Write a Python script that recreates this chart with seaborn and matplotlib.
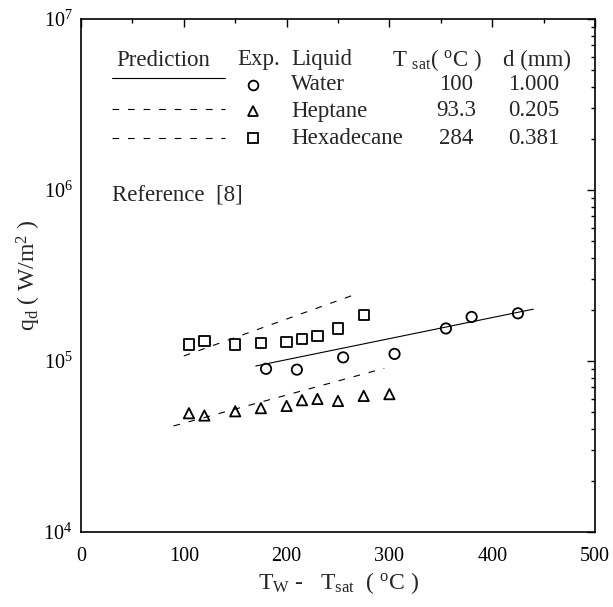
import matplotlib
matplotlib.use("Agg")
import matplotlib.pyplot as plt
import numpy as np
import pandas as pd
import seaborn as sns
from matplotlib.ticker import LogLocator, MultipleLocator, NullFormatter, LogFormatterSciNotation

# ---------------- data ----------------
liquids = ["Water", "Heptane", "Hexadecane"]
tsat_labels = ["100", "93.3", "284"]
d_labels = ["1.000", "0.205", "0.381"]

water_dt = [180, 210, 255, 305, 355, 380, 425]
water_q = [9.0e4, 8.9e4, 1.05e5, 1.10e5, 1.55e5, 1.81e5, 1.90e5]
heptane_dt = [105, 120, 150, 175, 200, 215, 230, 250, 275, 300]
heptane_q = [4.95e4, 4.8e4, 5.08e4, 5.3e4, 5.46e4, 5.9e4, 6.0e4, 5.84e4, 6.25e4, 6.4e4]
hexa_dt = [105, 120, 150, 175, 200, 215, 230, 250, 275]
hexa_q = [1.25e5, 1.31e5, 1.25e5, 1.27e5, 1.29e5, 1.35e5, 1.40e5, 1.55e5, 1.86e5]

pred_water_dt = [170, 440]
pred_water_q = [9.35e4, 2.01e5]
pred_hep_dt = [90, 295]
pred_hep_q = [4.17e4, 9.06e4]
pred_hex_dt = [100, 265]
pred_hex_q = [1.07e5, 2.43e5]

# ---------------- style ----------------
sns.set_style("white")
plt.rcParams["font.family"] = ["Liberation Serif", "DejaVu Serif"]
plt.rcParams["mathtext.fontset"] = "custom"
plt.rcParams["mathtext.rm"] = "Liberation Serif"
plt.rcParams["mathtext.it"] = "Liberation Serif:italic"
plt.rcParams["mathtext.bf"] = "Liberation Serif:bold"

exp_df = pd.DataFrame({
    "dT": water_dt + heptane_dt + hexa_dt,
    "q": water_q + heptane_q + hexa_q,
    "liquid": ["Water"] * len(water_dt) + ["Heptane"] * len(heptane_dt) + ["Hexadecane"] * len(hexa_dt),
})
pred_df = pd.DataFrame({
    "dT": pred_water_dt + pred_hep_dt + pred_hex_dt,
    "q": pred_water_q + pred_hep_q + pred_hex_q,
    "liquid": ["Water"] * 2 + ["Heptane"] * 2 + ["Hexadecane"] * 2,
})

markers = {"Water": "o", "Heptane": "^", "Hexadecane": "s"}
line_styles = {"Water": "-", "Heptane": (0, (6, 8)), "Hexadecane": (0, (6, 8))}

fig = plt.figure(figsize=(6.13, 6.07), dpi=100)
ax = fig.add_axes([81 / 613, 75 / 607, 514 / 613, 513 / 607])

for liq in liquids:
    sub = pred_df[pred_df["liquid"] == liq]
    sns.lineplot(data=sub, x="dT", y="q", ax=ax, color="black", lw=0.8,
                 linestyle=line_styles[liq], legend=False, estimator=None, sort=False)

for liq in liquids:
    sub = exp_df[exp_df["liquid"] == liq]
    sns.scatterplot(data=sub, x="dT", y="q", ax=ax, marker=markers[liq], s=55,
                    facecolors="none", edgecolors="black", linewidth=1.3,
                    legend=False, zorder=3)

ax.set_yscale("log")
ax.set_xlim(0, 500)
ax.set_ylim(1e4, 1e7)
ax.xaxis.set_major_locator(MultipleLocator(100))
ax.xaxis.set_minor_locator(MultipleLocator(50))
ax.yaxis.set_major_locator(LogLocator(base=10, numticks=10))
ax.yaxis.set_minor_locator(LogLocator(base=10, subs=np.arange(2, 10), numticks=20))
ax.yaxis.set_minor_formatter(NullFormatter())
ax.yaxis.set_major_formatter(LogFormatterSciNotation())

ax.tick_params(which="both", direction="in", top=True, right=True, colors="black")
ax.tick_params(which="major", length=6, width=1.0, labelsize=14.5)
ax.tick_params(axis="x", which="major", pad=11)
ax.tick_params(axis="y", which="major", pad=6)
ax.tick_params(which="minor", length=3, width=1.0)
for sp in ax.spines.values():
    sp.set_color("black")
    sp.set_linewidth(1.2)

ax.set_xlabel(r"T$_{\mathregular{W}}$ -   T$_{\mathregular{sat}}$  ( $^{\mathregular{o}}$C )", fontsize=17, labelpad=3)
ax.set_ylabel(r"q$_{\mathregular{d}}$ ( W/m$^{\mathregular{2}}$ )", fontsize=17, labelpad=0)

# ---------------- in-plot legend table ----------------
def fx(px):
    return (px - 81) / 514

def fy(py):
    return (532 - py) / 513

fs = 16.5
T = ax.transAxes
ax.text(fx(116), fy(60), "Prediction", transform=T, fontsize=fs, va="center", ha="left")
ax.text(fx(237), fy(60), "Exp.", transform=T, fontsize=fs, va="center", ha="left")
ax.text(fx(291), fy(60), "Liquid", transform=T, fontsize=fs, va="center", ha="left")
ax.text(fx(392), fy(60), r"T $_{\mathregular{sat}}$( $^{\mathregular{o}}$C )", transform=T,
        fontsize=fs, va="center", ha="left")
ax.text(fx(503), fy(60), "d (mm)", transform=T, fontsize=fs, va="center", ha="left")

row_y = [85, 111, 138]
line_y = [78, 109, 138]
for i, liq in enumerate(liquids):
    ax.plot([fx(112), fx(225)], [fy(line_y[i])] * 2, transform=T, color="black",
            lw=0.8, linestyle=line_styles[liq])
    ax.plot([fx(253)], [fy(row_y[i])], transform=T, marker=markers[liq], ms=7,
            mfc="none", mec="black", mew=1.3, linestyle="none")
    ax.text(fx(291), fy(row_y[i]), liq, transform=T, fontsize=fs, va="center", ha="left")
    ax.text(fx(456), fy(row_y[i]), tsat_labels[i], transform=T, fontsize=fs, va="center", ha="center")
    ax.text(fx(534), fy(row_y[i]), d_labels[i], transform=T, fontsize=fs, va="center", ha="center")

ax.text(fx(112), fy(195), "Reference  [8]", transform=T, fontsize=fs, va="center", ha="left")

fig.savefig("out.png", dpi=100)
